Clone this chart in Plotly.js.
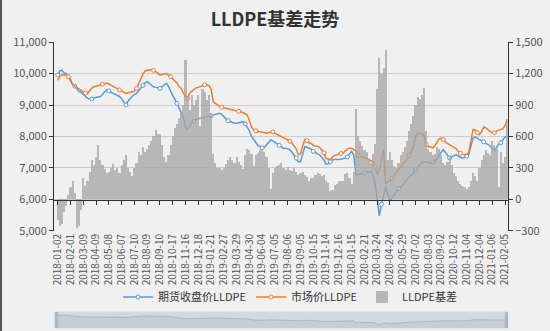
<!DOCTYPE html>
<html><head><meta charset="utf-8">
<script src="https://cdn.plot.ly/plotly-3.0.1.min.js"></script>
<style>html,body{margin:0;padding:0;background:#f0f0f0;}#chart{width:550px;height:331px;}</style>
</head><body><div id="chart"></div>
<script>
const tickDates = ["2018-01-02","2018-02-01","2018-03-09","2018-04-09","2018-05-08","2018-06-07","2018-07-10","2018-08-09","2018-09-10","2018-10-17","2018-11-16","2018-12-18","2019-01-21","2019-02-27","2019-03-29","2019-04-30","2019-06-04","2019-07-05","2019-08-06","2019-09-05","2019-10-15","2019-11-14","2019-12-16","2020-01-15","2020-02-21","2020-03-24","2020-04-24","2020-05-29","2020-07-02","2020-08-03","2020-09-02","2020-10-12","2020-11-04","2020-12-04","2021-01-06","2021-02-05"];

const dates = [
"2018-01-02","2018-01-08","2018-01-12","2018-01-18","2018-01-23","2018-01-26",
"2018-02-01","2018-02-07","2018-02-13","2018-02-26","2018-03-01","2018-03-06",
"2018-03-09","2018-03-14","2018-03-19","2018-03-23","2018-03-28","2018-04-03",
"2018-04-09","2018-04-13","2018-04-18","2018-04-23","2018-04-26","2018-05-03",
"2018-05-08","2018-05-14","2018-05-17","2018-05-23","2018-05-28","2018-06-01",
"2018-06-07","2018-06-12","2018-06-15","2018-06-22","2018-06-27","2018-07-03",
"2018-07-10","2018-07-13","2018-07-19","2018-07-24","2018-07-30","2018-08-03",
"2018-08-09","2018-08-14","2018-08-17","2018-08-23","2018-08-29","2018-09-04",
"2018-09-10","2018-09-13","2018-09-18","2018-09-21","2018-09-28","2018-10-11",
"2018-10-17","2018-10-22","2018-10-26","2018-11-01","2018-11-06","2018-11-12",
"2018-11-16","2018-11-21","2018-11-27","2018-11-30","2018-12-06","2018-12-12",
"2018-12-18","2018-12-21","2018-12-27","2019-01-04","2019-01-09","2019-01-15",
"2019-01-21","2019-01-24","2019-01-30","2019-02-13","2019-02-18","2019-02-22",
"2019-02-27","2019-03-04","2019-03-08","2019-03-14","2019-03-19","2019-03-25",
"2019-03-29","2019-04-03","2019-04-10","2019-04-15","2019-04-19","2019-04-25",
"2019-04-30","2019-05-09","2019-05-14","2019-05-20","2019-05-24","2019-05-29",
"2019-06-04","2019-06-11","2019-06-14","2019-06-20","2019-06-25","2019-07-01",
"2019-07-05","2019-07-10","2019-07-16","2019-07-19","2019-07-25","2019-07-31",
"2019-08-06","2019-08-09","2019-08-15","2019-08-20","2019-08-26","2019-08-30",
"2019-09-05","2019-09-11","2019-09-17","2019-09-23","2019-09-27","2019-10-10",
"2019-10-15","2019-10-18","2019-10-24","2019-10-29","2019-11-04","2019-11-08",
"2019-11-14","2019-11-19","2019-11-22","2019-11-28","2019-12-04","2019-12-10",
"2019-12-16","2019-12-19","2019-12-24","2019-12-30","2020-01-06","2020-01-10",
"2020-01-15","2020-01-21","2020-02-05","2020-02-11","2020-02-14","2020-02-18",
"2020-02-21","2020-02-26","2020-03-02","2020-03-06","2020-03-12","2020-03-18",
"2020-03-24","2020-03-27","2020-04-01","2020-04-08","2020-04-14","2020-04-20",
"2020-04-24","2020-04-29","2020-05-08","2020-05-14","2020-05-19","2020-05-25",
"2020-05-29","2020-06-03","2020-06-09","2020-06-15","2020-06-19","2020-06-24",
"2020-07-02","2020-07-07","2020-07-13","2020-07-17","2020-07-23","2020-07-29",
"2020-08-03","2020-08-06","2020-08-12","2020-08-17","2020-08-21","2020-08-27",
"2020-09-02","2020-09-07","2020-09-11","2020-09-17","2020-09-23","2020-09-29",
"2020-10-12","2020-10-15","2020-10-19","2020-10-22","2020-10-27","2020-10-30",
"2020-11-04","2020-11-10","2020-11-13","2020-11-19","2020-11-24","2020-11-30",
"2020-12-04","2020-12-10","2020-12-15","2020-12-21","2020-12-25","2020-12-30",
"2021-01-06","2021-01-12","2021-01-15","2021-01-21","2021-01-26","2021-02-01",
"2021-02-05","2021-02-08"];

const futuresClose = [
9950,10080,10100,10020,10000,9880,
9800,9650,9600,9520,9430,9400,
9330,9250,9210,9200,9190,9220,
9240,9260,9270,9330,9420,9470,
9450,9400,9370,9330,9300,9270,
9200,9080,9000,9120,9210,9280,
9330,9370,9450,9540,9620,9700,
9740,9680,9620,9580,9560,9540,
9530,9580,9640,9690,9600,9420,
9300,9180,9050,8900,8760,8600,
8300,8220,8350,8430,8480,8540,
8560,8580,8600,8620,8630,8650,
8660,8680,8700,8720,8740,8700,
8620,8560,8500,8470,8440,8420,
8420,8440,8460,8470,8400,8300,
8180,8000,7900,7790,7720,7680,
7640,7650,7720,7820,7890,7860,
7810,7780,7720,7660,7620,7630,
7600,7580,7500,7400,7320,7200,
7200,7450,7680,7660,7640,7600,
7530,7480,7450,7420,7350,7250,
7120,7130,7200,7260,7270,7270,
7270,7280,7300,7310,7350,7450,
7530,7400,6800,6790,6810,6830,
6840,6860,6880,6890,6780,6520,
6000,5480,5850,6100,6400,6150,
5950,6050,6150,6280,6350,6410,
6450,6550,6640,6700,6780,6840,
6950,7020,7100,7180,7200,7180,
7170,7160,7200,7240,7270,7400,
7500,7580,7500,7400,7320,7360,
7400,7420,7380,7340,7310,7330,
7380,7430,7700,7950,7980,7930,
7900,7870,7830,7800,7760,7700,
7600,7560,7650,7750,7800,7900,
7980,8010];

const marketPrice = [
9780,9900,9960,9950,9950,9900,
9820,9650,9600,9560,9500,9470,
9420,9380,9370,9450,9540,9580,
9600,9630,9640,9660,9680,9690,
9670,9630,9580,9540,9510,9480,
9450,9400,9370,9390,9410,9420,
9440,9530,9700,9850,9980,10080,
10110,10120,10110,10100,10060,10000,
9950,9970,9990,10000,9960,9900,
9850,9780,9700,9580,9530,9380,
9250,9210,9380,9440,9500,9540,
9560,9590,9620,9640,9640,9620,
9500,9110,9050,9000,8950,8930,
8910,8900,8880,8860,8840,8820,
8810,8800,8790,8760,8720,8680,
8500,8300,8210,8180,8160,8150,
8130,8110,8100,8120,8140,8150,
8100,8060,8020,7990,7960,7930,
7900,7850,7790,7700,7600,7420,
7450,7700,7900,7870,7800,7780,
7720,7700,7690,7650,7560,7480,
7300,7280,7270,7350,7400,7420,
7450,7460,7480,7550,7600,7630,
7630,7580,7560,7400,7370,7340,
7320,7310,7260,7230,7200,7050,
6790,6950,7250,7580,6500,6550,
6600,6680,6780,6850,6950,7030,
7100,7200,7270,7400,7550,7690,
8000,8110,8110,8100,8000,7750,
7680,7660,7640,7700,7800,7920,
7950,7900,7820,7780,7760,7720,
7680,7620,7530,7470,7440,7430,
7420,7500,7900,8220,8200,8120,
8060,8150,8300,8270,8200,8160,
8110,8120,8170,8200,8230,8250,
8350,8550];

const basis = [
-200,-250,-230,-120,-60,40,
120,180,60,-270,-250,-100,
200,130,180,260,380,330,
400,520,380,330,290,250,
260,300,340,280,300,250,
330,380,420,300,260,220,
300,350,450,420,500,450,
480,520,560,600,660,620,
620,520,400,360,420,520,
600,680,720,780,820,900,
1330,980,850,1000,900,950,
1000,700,1050,1020,950,1000,
820,430,350,300,300,280,
300,340,380,400,380,350,
400,360,330,290,420,480,
470,430,320,420,440,470,
480,450,400,300,100,250,
300,320,330,350,300,280,
310,280,270,300,260,230,
250,260,230,210,180,200,
200,230,250,240,220,230,
180,160,80,90,140,150,
180,180,180,240,250,200,
150,260,860,600,560,510,
470,450,390,350,430,530,
1050,1350,1200,1250,1420,380,
450,380,320,300,350,420,
450,500,560,650,720,800,
900,980,960,1000,1060,650,
480,450,420,430,500,480,
420,350,330,360,400,330,
250,220,180,150,130,120,
100,120,180,250,220,180,
300,380,420,470,440,420,
560,520,480,120,450,350,
400,760];

const seriesNames = ["期货收盘价LLDPE","市场价LLDPE","LLDPE基差"];
const FONT = "'Noto Sans CJK SC', 'Noto Sans', sans-serif";
const BLUE = "#5b9bd5", ORANGE = "#ed7d31";

const traces = [
  {type:"bar", x:dates, y:basis, yaxis:"y2", name:seriesNames[2], legendrank:3,
   marker:{color:"#a5a5a5", line:{width:0}}, opacity:0.75, hoverinfo:"skip"},
  {type:"scatter", mode:"lines+markers", x:dates, y:futuresClose, name:seriesNames[0], legendrank:1,
   line:{color:BLUE, width:1.5}, marker:{symbol:"circle", size:4, color:"#ffffff", line:{color:BLUE, width:1}, maxdisplayed:30}},
  {type:"scatter", mode:"lines+markers", x:dates, y:marketPrice, name:seriesNames[1], legendrank:2,
   line:{color:ORANGE, width:1.5}, marker:{symbol:"circle", size:4, color:"#ffffff", line:{color:ORANGE, width:1}, maxdisplayed:30}},
  {type:"scatter", mode:"none", x:dates, y:futuresClose, xaxis:"x2", yaxis:"y", showlegend:false, hoverinfo:"skip"},
  {type:"scatter", mode:"lines", x:dates, y:futuresClose, xaxis:"x3", yaxis:"y3", showlegend:false, hoverinfo:"skip",
   fill:"tozeroy", fillcolor:"rgba(47,69,84,0.08)", line:{color:"rgba(47,69,84,0.3)", width:0.7}}
];

const layout = {
  width:550, height:331,
  paper_bgcolor:"#f0f0f0", plot_bgcolor:"#f0f0f0",
  margin:{l:54, r:42, t:42, b:2},
  font:{family:FONT, color:"#333"},
  title:{text:"LLDPE基差走势", x:0.5, xref:"container", y:0.94, yref:"container", yanchor:"middle",
         font:{family:FONT, size:18, color:"#333", weight:"bold"}},
  showlegend:true,
  legend:{orientation:"h", x:0.52, xanchor:"center", y:0.1115, yanchor:"middle",
          font:{family:FONT, size:11, color:"#333"}, itemwidth:30, bgcolor:"rgba(0,0,0,0)"},
  bargap:0,
  xaxis:{type:"category", categoryorder:"array", categoryarray:dates, range:[-1.74, 211.4],
         tickmode:"array", tickvals:tickDates, ticktext:tickDates, tickangle:-90,
         tickfont:{family:FONT, size:10, color:"#555"}, ticks:"", showgrid:false, showline:false,
         zeroline:false, anchor:"y", fixedrange:true},
  xaxis2:{type:"category", overlaying:"x", matches:"x", anchor:"free", position:0.4512,
          showline:true, linecolor:"#333", linewidth:1, ticks:"outside", ticklen:4, tickcolor:"#333",
          tickmode:"array", tickvals:tickDates, showticklabels:false, showgrid:false, zeroline:false},
  yaxis:{domain:[0.3415,1], range:[5000,11000], dtick:1000, tickformat:",d",
         showline:true, linecolor:"#333", ticks:"outside", ticklen:4, tickcolor:"#333",
         gridcolor:"#cccccc", zeroline:false, tickfont:{family:FONT, size:11, color:"#555"}},
  yaxis2:{overlaying:"y", side:"right", range:[-300,1500], dtick:300, tickformat:",d",
          showline:true, linecolor:"#333", ticks:"outside", ticklen:4, tickcolor:"#333",
          showgrid:false, zeroline:false, tickfont:{family:FONT, size:11, color:"#555"}},
  xaxis3:{domain:[0.002,1], anchor:"y3", type:"category", categoryorder:"array", categoryarray:dates,
          range:[-0.5, 211.5], visible:false, fixedrange:true},
  yaxis3:{domain:[0.0035,0.059], anchor:"x3", range:[4065,11505], visible:false, fixedrange:true},
  shapes:[
    {type:"rect", xref:"paper", yref:"paper", x0:0.002, x1:1, y0:0.0035, y1:0.059,
     fillcolor:"rgba(167,183,203,0.4)", line:{color:"#d4dae2", width:1}, layer:"below"},
    {type:"rect", xref:"paper", yref:"paper", x0:0.002, x1:0.009, y0:0.0035, y1:0.059,
     fillcolor:"#a7b7cc", line:{width:0}},
    {type:"rect", xref:"paper", yref:"paper", x0:0.993, x1:1, y0:0.0035, y1:0.059,
     fillcolor:"#a7b7cc", line:{width:0}},
    {type:"line", xref:"paper", yref:"paper", x0:-0.1167, x1:-0.1167, y0:-0.01, y1:1.2,
     line:{color:"#555", width:2}}
  ]
};

Plotly.newPlot("chart", traces, layout, {displayModeBar:false, staticPlot:true});
</script></body></html>
